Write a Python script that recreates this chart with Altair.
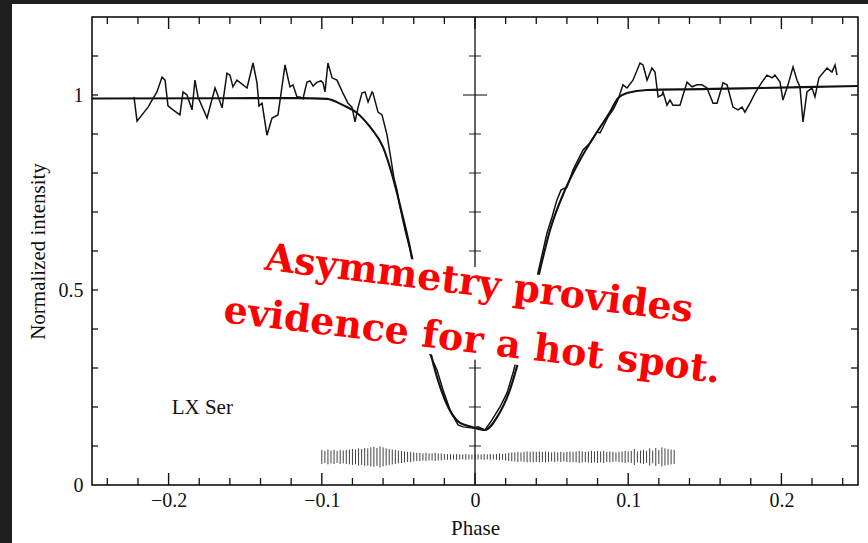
import altair as alt
import pandas as pd

# ---------------- data ----------------
obs_phase = [-0.2226, -0.2206, -0.2134, -0.2108, -0.2076, -0.2043, -0.2023, -0.2004, -0.1971, -0.1926,
             -0.1906, -0.1880, -0.1847, -0.1828, -0.1808, -0.1749, -0.1697, -0.1684, -0.1651, -0.1619,
             -0.1599, -0.1580, -0.1554, -0.1488, -0.1449, -0.1423, -0.1410, -0.1390, -0.1358, -0.1325,
             -0.1286, -0.1240, -0.1208, -0.1188, -0.1162, -0.1142, -0.1123, -0.1097, -0.1077, -0.1057,
             -0.1031, -0.1005, -0.0992, -0.0979, -0.0960, -0.0933, -0.0901, -0.0862, -0.0829, -0.0803,
             -0.0783, -0.0764, -0.0738, -0.0718, -0.0698, -0.0672, -0.0666, -0.0633, -0.0607, -0.0574,
             -0.0555, -0.0529, -0.0509, -0.0490, -0.0457, -0.0424, -0.0392, -0.0359, -0.0333, -0.0307,
             -0.0248, -0.0209, -0.0163, -0.0111, -0.0078, -0.0013, 0.0020, 0.0065, 0.0111, 0.0163,
             0.0209, 0.0248, 0.0281, 0.0326, 0.0372, 0.0411, 0.0470, 0.0503, 0.0535, 0.0561,
             0.0601, 0.0640, 0.0705, 0.0751, 0.0796, 0.0816, 0.0836, 0.0868, 0.0901, 0.0933,
             0.0966, 0.0992, 0.1031, 0.1077, 0.1097, 0.1123, 0.1155, 0.1175, 0.1195, 0.1221,
             0.1227, 0.1253, 0.1273, 0.1292, 0.1338, 0.1384, 0.1417, 0.1449, 0.1482, 0.1514,
             0.1554, 0.1580, 0.1619, 0.1645, 0.1684, 0.1717, 0.1743, 0.1762, 0.1795, 0.1828,
             0.1873, 0.1906, 0.1939, 0.1958, 0.1991, 0.2010, 0.2043, 0.2076, 0.2102, 0.2121,
             0.2141, 0.2167, 0.2200, 0.2219, 0.2245, 0.2298, 0.2330, 0.2350, 0.2363]
obs_intensity = [0.995, 0.933, 0.969, 0.987, 1.008, 1.046, 1.038, 0.972, 0.962, 0.949,
                 1.008, 1.000, 0.962, 1.038, 0.995, 0.941, 1.018, 1.005, 0.967, 1.056,
                 1.051, 1.021, 1.038, 1.018, 1.082, 1.031, 0.972, 0.979, 0.897, 0.941,
                 0.949, 1.077, 1.021, 1.026, 0.995, 0.995, 0.990, 1.033, 1.036, 1.023,
                 1.033, 1.036, 1.031, 1.008, 1.082, 1.044, 1.038, 1.005, 0.979, 0.969,
                 0.931, 0.967, 1.005, 1.008, 0.982, 1.008, 1.005, 0.956, 0.949, 0.897,
                 0.851, 0.787, 0.756, 0.713, 0.654, 0.603, 0.538, 0.474, 0.410, 0.346,
                 0.295, 0.244, 0.192, 0.154, 0.149, 0.146, 0.149, 0.141, 0.167, 0.200,
                 0.236, 0.287, 0.338, 0.410, 0.479, 0.544, 0.646, 0.687, 0.731, 0.756,
                 0.764, 0.808, 0.859, 0.877, 0.905, 0.903, 0.918, 0.944, 0.962, 0.987,
                 1.026, 1.018, 1.038, 1.082, 1.077, 1.038, 1.069, 1.059, 0.995, 1.000,
                 1.008, 0.974, 0.987, 0.974, 0.974, 1.033, 1.021, 1.026, 1.026, 1.018,
                 0.979, 0.979, 1.031, 1.026, 0.969, 0.962, 0.969, 0.956, 0.979, 1.005,
                 1.033, 1.051, 1.044, 1.051, 1.033, 0.987, 1.026, 1.072, 1.038, 1.021,
                 0.931, 1.008, 1.018, 0.995, 1.044, 1.069, 1.059, 1.077, 1.051]

model_phase = [-0.25, -0.1142, -0.0966, -0.0862, -0.0770, -0.0685, -0.0601, -0.0535, -0.0490, -0.0424,
               -0.0359, -0.0294, -0.0196, -0.0098, -0.0020, 0.0065, 0.0144, 0.0228, 0.0294, 0.0359,
               0.0424, 0.0490, 0.0587, 0.0685, 0.0796, 0.0881, 0.0933, 0.0992, 0.1123, 0.1469,
               0.1860, 0.25]
model_intensity = [0.991, 0.992, 0.990, 0.974, 0.954, 0.918, 0.867, 0.787, 0.718, 0.608,
                   0.479, 0.346, 0.218, 0.159, 0.149, 0.141, 0.174, 0.244, 0.333, 0.436,
                   0.551, 0.654, 0.756, 0.833, 0.905, 0.956, 0.992, 1.005, 1.013, 1.015,
                   1.018, 1.023]

# residual bars: one every 0.002 in phase starting at -0.100
res_start, res_step = -0.100, 0.002
res_length = [0.036, 0.031, 0.038, 0.033, 0.036, 0.031, 0.036, 0.033,
              0.036, 0.038, 0.041, 0.038, 0.044, 0.041, 0.046, 0.044,
              0.049, 0.051, 0.046, 0.054, 0.049,
              0.044, 0.041, 0.038, 0.036, 0.033,
              0.031, 0.028, 0.026, 0.026, 0.023,
              0.021, 0.021, 0.018, 0.021, 0.018, 0.018, 0.021, 0.018, 0.018, 0.015,
              0.015, 0.015, 0.013, 0.015, 0.013, 0.013, 0.015, 0.013, 0.013, 0.015,
              0.013, 0.013, 0.015, 0.013, 0.015, 0.013, 0.015, 0.018, 0.015, 0.018,
              0.021, 0.023, 0.023, 0.026, 0.023, 0.026, 0.028, 0.026, 0.028, 0.026,
              0.028, 0.026, 0.028, 0.026, 0.023, 0.026, 0.023, 0.026, 0.023, 0.026,
              0.028, 0.026, 0.028, 0.031, 0.028, 0.026, 0.028, 0.031, 0.028, 0.031,
              0.028, 0.031, 0.026, 0.028, 0.026, 0.023, 0.026, 0.028, 0.031, 0.028,
              0.031, 0.041, 0.028, 0.033, 0.036, 0.031, 0.044, 0.033,
              0.046, 0.036, 0.049, 0.044, 0.041, 0.038, 0.036]
res_level = 0.072

x_ticks = [-0.24, -0.22, -0.20, -0.18, -0.16, -0.14, -0.12, -0.10, -0.08, -0.06, -0.04, -0.02, 0.0,
           0.02, 0.04, 0.06, 0.08, 0.10, 0.12, 0.14, 0.16, 0.18, 0.20, 0.22, 0.24]
x_major = [-0.2, -0.1, 0.0, 0.1, 0.2]
y_ticks = [0.1, 0.2, 0.3, 0.4, 0.5, 0.6, 0.7, 0.8, 0.9, 1.0, 1.1]
y_major = [0.5, 1.0]
y_labels = [0, 0.5, 1]

star_name = "LX Ser"
star_pos = (-0.198, 0.197)
note_lines = ["Asymmetry provides", "evidence for a hot spot."]
note_pos = (0.0026, 0.513)     # centre of the first line
box_pos = (0.0005, 0.440)      # centre of the white patch under the note

# ---------------- tables ----------------
obs = pd.DataFrame({"phase": obs_phase, "intensity": obs_intensity})
model = pd.DataFrame({"phase": model_phase, "intensity": model_intensity})
res_phase = [round(res_start + res_step * i, 3) for i in range(len(res_length))]
res = pd.DataFrame({"phase": res_phase,
                    "lo": [res_level - h / 2 for h in res_length],
                    "hi": [res_level + h / 2 for h in res_length]})
xt = pd.DataFrame({"phase": x_ticks,
                   "major": [any(abs(t - m) < 1e-9 for m in x_major) for t in x_ticks]})
yt = pd.DataFrame({"intensity": y_ticks, "cx": [0.0] * len(y_ticks),
                   "major": [any(abs(t - m) < 1e-9 for m in y_major) for t in y_ticks]})
one = pd.DataFrame({"phase": [note_pos[0]], "intensity": [note_pos[1]]})
boxdf = pd.DataFrame({"phase": [box_pos[0]], "intensity": [box_pos[1]]})
star = pd.DataFrame({"phase": [star_pos[0]], "intensity": [star_pos[1]], "label": [star_name]})

W, H = 766, 468
SERIF = "Liberation Serif"
INK = "#111111"

xs = alt.Scale(domain=[-0.25, 0.25], nice=False, zero=False)
ys = alt.Scale(domain=[0, 1.2], nice=False, zero=False)
xaxis = alt.Axis(values=x_major, format="~g", ticks=False, domain=False, grid=False,
                 labelFont=SERIF, labelFontSize=20, labelColor=INK, labelPadding=5,
                 title="Phase", titleFont=SERIF, titleFontSize=21, titleFontWeight="normal",
                 titleColor=INK, titleY=43, titleBaseline="middle")
yaxis = alt.Axis(values=y_labels, format="~g", ticks=False, domain=False, grid=False,
                 labelFont=SERIF, labelFontSize=20, labelColor=INK, labelPadding=9,
                 title="Normalized intensity", titleFont=SERIF, titleFontSize=21,
                 titleFontWeight="normal", titleColor=INK, titleX=-54, titleY=H / 2,
                 titleAngle=-90, titleAlign="center", titleBaseline="middle")


def X(f):
    return alt.X(f, type="quantitative", scale=xs, axis=xaxis)


def Y(f):
    return alt.Y(f, type="quantitative", scale=ys, axis=yaxis)


# dark screenshot edges (outside the frame)
edge_left = alt.Chart(one).mark_rect(color="#1f1f1f").encode(
    x=alt.value(-92), x2=alt.value(-80), y=alt.value(-17), y2=alt.value(526))
edge_top = alt.Chart(one).mark_rect(color="#1f1f1f").encode(
    x=alt.value(-92), x2=alt.value(776), y=alt.value(-17), y2=alt.value(-13))

# central phase-zero axis with crossing ticks
center_line = alt.Chart(yt.head(1)).mark_rule(color=INK, strokeWidth=1.3).encode(
    x=X("cx"), y=alt.value(0), y2=alt.value(H))
center_minor = alt.Chart(yt).transform_filter("!datum.major").mark_tick(
    orient="horizontal", size=12, thickness=1.3, color=INK).encode(x=X("cx"), y=Y("intensity"))
center_major = alt.Chart(yt).transform_filter("datum.major").mark_tick(
    orient="horizontal", size=24, thickness=1.5, color=INK).encode(x=X("cx"), y=Y("intensity"))

# frame ticks pointing inward
bot_minor = alt.Chart(xt).transform_filter("!datum.major").mark_rule(color=INK, strokeWidth=1.3).encode(
    x=X("phase"), y=alt.value(H), y2=alt.value(H - 7))
bot_major = alt.Chart(xt).transform_filter("datum.major").mark_rule(color=INK, strokeWidth=1.4).encode(
    x=X("phase"), y=alt.value(H), y2=alt.value(H - 12))
top_minor = alt.Chart(xt).transform_filter("!datum.major").mark_rule(color=INK, strokeWidth=1.3).encode(
    x=X("phase"), y=alt.value(0), y2=alt.value(7))
top_major = alt.Chart(xt).transform_filter("datum.major").mark_rule(color=INK, strokeWidth=1.4).encode(
    x=X("phase"), y=alt.value(0), y2=alt.value(12))
left_t = alt.Chart(yt).mark_rule(color=INK, strokeWidth=1.3).encode(
    y=Y("intensity"), x=alt.value(0), x2=alt.value(6))
right_t = alt.Chart(yt).mark_rule(color=INK, strokeWidth=1.3).encode(
    y=Y("intensity"), x=alt.value(W), x2=alt.value(W - 7))

resid = alt.Chart(res).mark_rule(color="#2a2a2a", strokeWidth=0.9).encode(
    x=X("phase"), y=Y("lo"), y2="hi")

model_line = alt.Chart(model).mark_line(color=INK, strokeWidth=2.1, interpolate="monotone").encode(
    x=X("phase"), y=Y("intensity"))
obs_line = alt.Chart(obs).mark_line(color=INK, strokeWidth=1.5).encode(
    x=X("phase"), y=Y("intensity"))

star_label = alt.Chart(star).mark_text(font=SERIF, fontSize=21, color=INK, align="left",
                                       baseline="middle").encode(
    x=X("phase"), y=Y("intensity"), text="label:N")

box = alt.Chart(boxdf).mark_point(shape="M-1,-0.175L1,-0.175L1,0.175L-1,0.175Z", filled=True,
                                  fill="white", color="white", opacity=1, strokeWidth=0,
                                  angle=7, size=525 * 525).encode(x=X("phase"), y=Y("intensity"))
note = alt.Chart(one).mark_text(text=note_lines, font="DejaVu Serif", fontWeight="bold",
                                fontSize=38, color="#ff0000", angle=7, align="center",
                                baseline="middle", lineHeight=57).encode(
    x=X("phase"), y=Y("intensity"))

chart = alt.layer(
    edge_left, edge_top, center_line, center_minor, center_major,
    bot_minor, bot_major, top_minor, top_major, left_t, right_t,
    resid, model_line, obs_line, star_label, box, note
).properties(
    width=W, height=H, background="white",
    padding={"left": 92, "top": 17, "right": 10, "bottom": 58},
    autosize="none"
).configure_view(stroke="black", strokeWidth=1.5)

chart.save("out.html", embed_options={"renderer": "svg", "actions": False})
